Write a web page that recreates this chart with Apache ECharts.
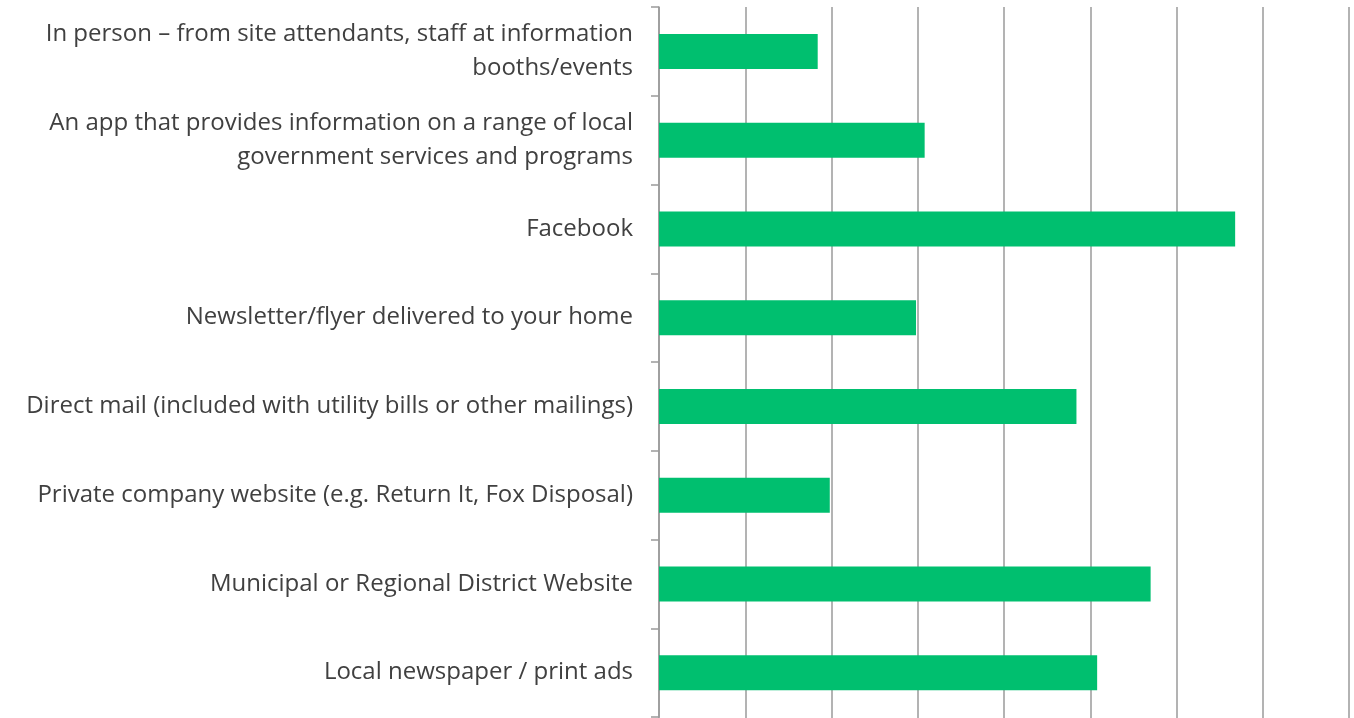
<!DOCTYPE html>
<html>
<head>
<meta charset="utf-8">
<script src="https://cdn.jsdelivr.net/npm/echarts@6/dist/echarts.min.js"></script>
<style>
html, body { margin: 0; padding: 0; background: #fff; }
#chart { width: 1354px; height: 718px; }
</style>
</head>
<body>
<div id="chart"></div>
<script>
var categories = [
    'In person – from site attendants, staff at information\nbooths/events',
    'An app that provides information on a range of local\ngovernment services and programs',
    'Facebook',
    'Newsletter/flyer delivered to your home',
    'Direct mail (included with utility bills or other mailings)',
    'Private company website (e.g. Return It, Fox Disposal)',
    'Municipal or Regional District Website',
    'Local newspaper / print ads'
];
var values = [9.2, 15.4, 33.4, 14.9, 24.2, 9.9, 28.5, 25.4];

var chart = echarts.init(document.getElementById('chart'));

var option = {
    animation: false,
    grid: {
        left: 659,
        right: 5,
        top: 7,
        bottom: 1
    },
    xAxis: {
        type: 'value',
        min: 0,
        max: 40,
        interval: 5,
        axisLabel: { show: false },
        axisLine: { show: false },
        axisTick: { show: true, length: 6, lineStyle: { color: '#9a9a9a', width: 1.5 } },
        splitLine: { show: true, lineStyle: { color: '#9a9a9a', width: 1.5 } }
    },
    yAxis: {
        type: 'category',
        inverse: true,
        data: categories,
        axisLine: { show: true, lineStyle: { color: '#9a9a9a', width: 1.5 } },
        axisTick: { show: true, length: 8, lineStyle: { color: '#9a9a9a', width: 1.5 } },
        axisLabel: {
            margin: 26,
            color: '#404040',
            fontFamily: 'Open Sans',
            fontSize: 24,
            lineHeight: 34,
            align: 'right'
        }
    },
    series: [
        {
            type: 'bar',
            data: values,
            barWidth: 35,
            itemStyle: { color: '#00bf6f' }
        }
    ]
};
chart.setOption(option);
</script>
</body>
</html>
